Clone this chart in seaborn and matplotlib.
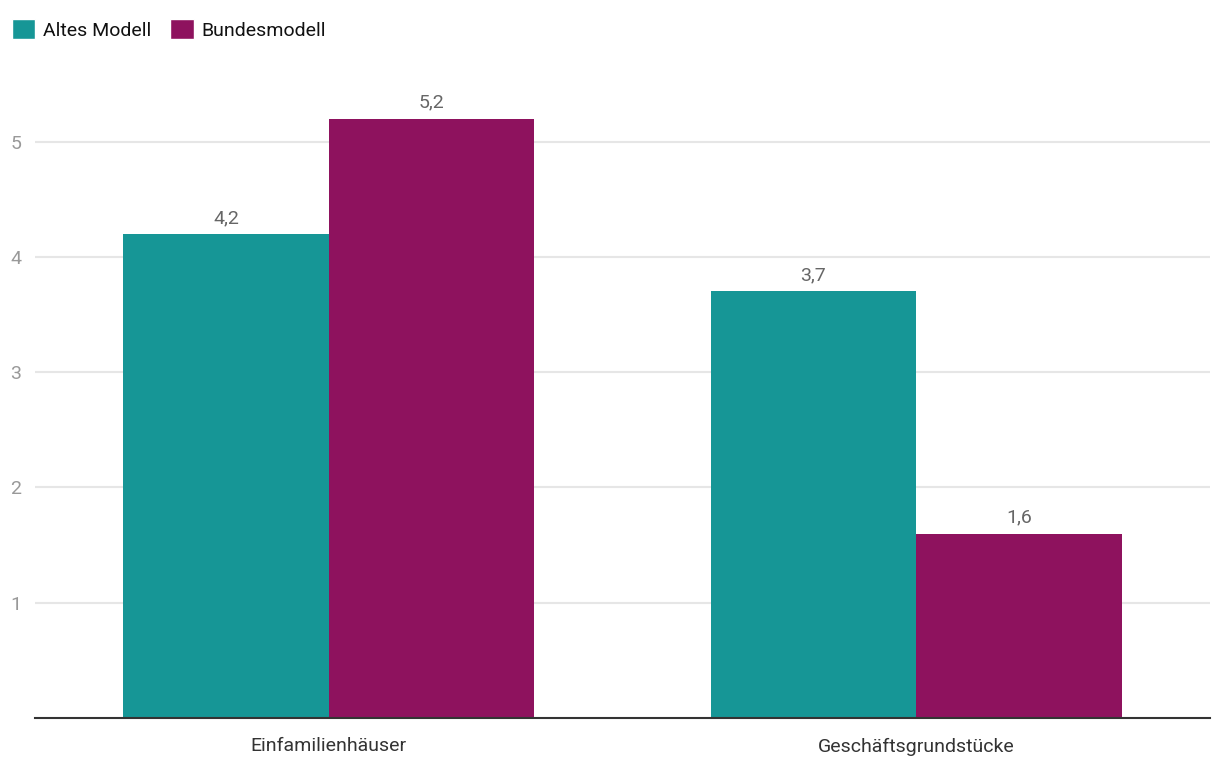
import matplotlib
matplotlib.use("Agg")
import matplotlib.pyplot as plt
import seaborn as sns
import pandas as pd
from matplotlib.patches import Patch

categories = ["Einfamilienhäuser", "Geschäftsgrundstücke"]
series_names = ["Altes Modell", "Bundesmodell"]
altes = [4.2, 3.7]
bundes = [5.2, 1.6]
colors = ["#169696", "#8E125E"]
yticks = [1, 2, 3, 4, 5]

df = pd.DataFrame({
    "cat": categories * 2,
    "series": [series_names[0]] * 2 + [series_names[1]] * 2,
    "val": altes + bundes,
})

sns.set_theme(style="white")
plt.rcParams["font.family"] = ["Roboto", "DejaVu Sans"]

fig = plt.figure(figsize=(12.2, 7.76), dpi=100)
ax = fig.add_axes([35/1220, 1 - 718/776, 1175/1220, (718 - 84)/776])

sns.barplot(data=df, x="cat", y="val", hue="series", palette=colors,
            width=0.7, ax=ax, saturation=1, legend=False, linewidth=0)

ax.set_xlim(-0.5, 1.5)
ax.set_ylim(0, 5.5)
ax.set_yticks(yticks)
ax.set_yticklabels([str(t) for t in yticks])
ax.yaxis.grid(True, color="#e6e6e6", linewidth=1.5)
ax.set_axisbelow(True)
ax.set_xlabel("")
ax.set_ylabel("")
for s in ["top", "right", "left"]:
    ax.spines[s].set_visible(False)
ax.spines["bottom"].set_color("#333333")
ax.spines["bottom"].set_linewidth(1.5)
ax.tick_params(axis="y", length=0, labelsize=14, labelcolor="#999999", pad=10)
ax.tick_params(axis="x", length=0, labelsize=14, labelcolor="#333333", pad=14)

for cont in ax.containers:
    ax.bar_label(cont, labels=[f"{v:.1f}".replace(".", ",") for v in cont.datavalues],
                 padding=5, fontsize=14, color="#666666")

handles = [Patch(facecolor=c, label=n) for c, n in zip(colors, series_names)]
leg = fig.legend(handles=handles, loc="upper left", bbox_to_anchor=(0.0, 0.99), ncol=2,
                 frameon=False, fontsize=14, handlelength=1.2, handleheight=1.2,
                 handletextpad=0.4, columnspacing=1.0, borderaxespad=0.3,
                 borderpad=0.3)
for t in leg.get_texts():
    t.set_color("#111111")

fig.savefig("out.png", dpi=100)
